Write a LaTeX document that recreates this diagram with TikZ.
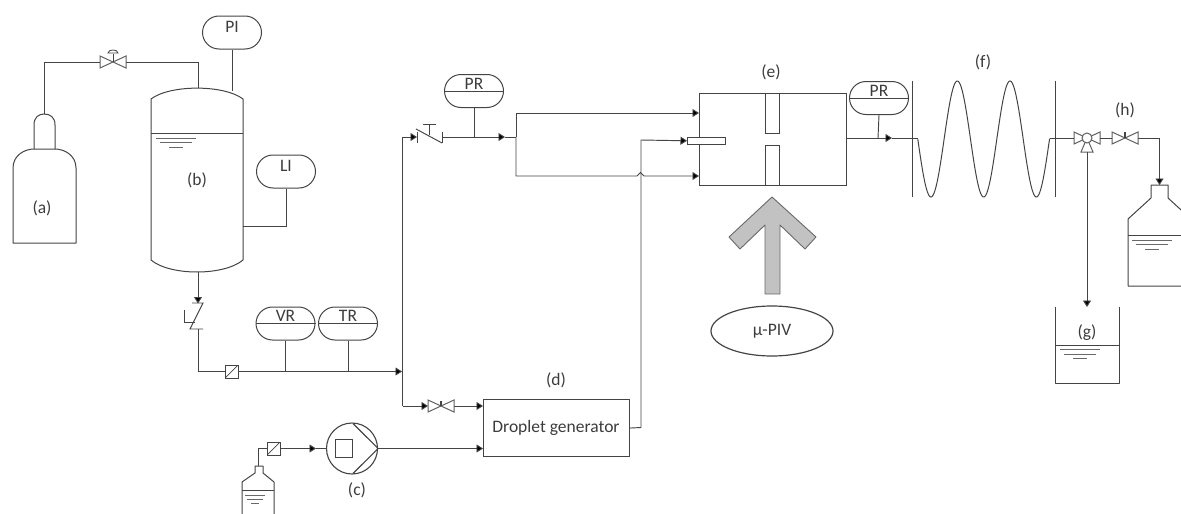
\documentclass[tikz,border=0pt]{standalone}
\usepackage{fontspec}
\setmainfont{Carlito}
\usetikzlibrary{arrows.meta,shapes.misc,shapes.geometric}
\definecolor{ln}{HTML}{444444}
\definecolor{ltx}{HTML}{3C3C3C}
\tikzset{
  pipe/.style={draw=ln,line width=0.95pt,line join=miter},
  vessel/.style={draw=ln,line width=1pt,line join=round},
  flow/.style={pipe,-{Triangle[length=6.5pt,width=8pt,fill=black]}},
  instr/.style={rounded rectangle,draw=ln,line width=1pt,minimum width=59pt,minimum height=33pt,inner sep=0pt,fill=white},
  lab/.style={text=ltx,font=\fontsize{17.5}{20}\selectfont,inner sep=0pt},
  box/.style={rectangle,draw=ln,line width=1.1pt,inner sep=0pt,anchor=north west},
  levelA/.style={draw=ln!80,line width=1pt},
  filt/.style={rectangle,draw=ln,line width=0.8pt,minimum size=13pt,inner sep=0pt,fill=white,path picture={\draw[ln,line width=0.7pt] (path picture bounding box.south west)--(path picture bounding box.north east);}}
}
% valve: name, x, y
\newcommand{\vlv}[3]{%
  \draw[draw=ln!85,line width=1pt,fill=white] (#2-13,#3-6)--(#2+13,#3+6)--(#2+13,#3-6)--(#2-13,#3+6)--cycle;
  \coordinate (#1-l) at (#2-13,#3);
  \coordinate (#1-r) at (#2+13,#3);
  \coordinate (#1-c) at (#2,#3);}
% level marks: x-left of long line, y
\newcommand{\lvl}[2]{%
  \draw[levelA] (#1,#2)--(#1+40,#2);
  \draw[levelA] (#1+4,#2+4.5)--(#1+36,#2+4.5);
  \draw[levelA] (#1+13,#2+9)--(#1+27,#2+9);}
\begin{document}
\begin{tikzpicture}[x=1pt,y=-1pt]
\useasboundingbox (0,0) rectangle (1181,514);
\clip (0,0) rectangle (1181,514);

% (a) cylinder
\coordinate (cylTop) at (44,114);
\draw[vessel] (13,243)--(13,168) .. controls (13,155) and (25,149) .. (34,149) -- (55,149) .. controls (64,149) and (76,155) .. (76,168) -- (76,243) -- cycle;
\draw[vessel] (34,149)--(34,125) .. controls (34,117) and (39,114) .. (44,114) .. controls (50,114) and (55,117) .. (55,125) -- (55,149);
\node[lab] (la) at (42,208) {(a)};

% (b) tank
\coordinate (tankTop) at (198,88);
\coordinate (tankPI) at (232,91);
\coordinate (tankLI) at (243,226);
\coordinate (tankBot) at (198,272);
\draw[vessel] (151,99) .. controls (170,84.5) and (224,84.5) .. (243,99) -- (243,260) .. controls (224,276) and (170,276) .. (151,260) -- cycle;
\draw[vessel] (151,133.5)--(243,133.5);
\lvl{156}{138}
\node[lab] (lb) at (197,180) {(b)};

% valve 1
\vlv{va}{113}{62}
\draw[ln,line width=0.9pt] (113,62)--(113,54);
\draw[ln,line width=0.8pt] (108,53) .. controls (108,49) and (118,49) .. (118,53) -- cycle;
\draw[pipe] (cylTop)--(44,62)--(va-l);
\draw[pipe] (va-r)--(198,62)--(tankTop);

% PI, LI
\node[instr] (PI) at (232,32.5) {};
\node[lab] (PIt) at (232,27) {PI};
\draw[pipe] (PI.south)--(tankPI);
\node[instr] (LI) at (286,171.5) {};
\node[lab] (LIt) at (286,166) {LI};
\draw[pipe] (LI.south)--(286,226)--(tankLI);

% check valve below tank
\coordinate (cvaTop) at (198,303.5);
\coordinate (cvaBot) at (198,329);
\draw[flow] (tankBot)--(cvaTop);
\draw[pipe] (192,303)--(203,303)--(190,329)--(203,329);
\draw[pipe] (195,322)--(184,322);
\draw[pipe] (184,310)--(184,322);

% main line
\node[filt] (f1) at (231.5,371.5) {};
\coordinate (jn) at (402,371.5);
\draw[pipe] (cvaBot)--(198,371.5)--(f1.west);
\draw[flow] (f1.east)--(jn);
\node[instr] (VR) at (285.5,323.5) {};
\draw[pipe] (VR.west)--(VR.east);
\node[lab] (VRt) at (285.5,316) {VR};
\node[instr] (TR) at (348,323.5) {};
\draw[pipe] (TR.west)--(TR.east);
\node[lab] (TRt) at (348,316) {TR};
\draw[pipe] (VR.south)--(VR.south |- jn);
\draw[pipe] (TR.south)--(TR.south |- jn);

% vertical branch
\coordinate (cvbL) at (417,137);
\coordinate (cvbR) at (442,137);
\vlv{vb}{441}{406}
\draw[ln,line width=1.5pt] (441,406)--(441,401);
\draw[flow] (402.5,406)--(vb-l);
\draw[pipe] (402.5,406)--(402.5,137);
\draw[flow] (402.5,137)--(cvbL);
\draw[pipe] (416,129)--(442,143);
\draw[pipe] (417,132)--(417,143);
\draw[pipe] (442,132)--(442,143);
\draw[pipe] (429,124)--(429,135);
\draw[pipe] (423,124)--(436,124);

% PR 1
\node[instr] (PR1) at (474,91) {};
\draw[pipe] (PR1.west)--(PR1.east);
\node[lab] (PR1t) at (474,83.5) {PR};
\coordinate (prj) at (474,137);
\coordinate (spl) at (516,137);
\draw[pipe] (PR1.south)--(prj);
\draw[flow] (cvbR)--(505,137);
\draw[pipe] (505,137)--(spl);

% droplet generator
\node[box,minimum width=146pt,minimum height=57pt] (dg) at (483,399) {};
\node[lab] (dgt) at (556,427.5) {Droplet generator};
\node[lab] (ld) at (556,380) {(d)};
\draw[flow] (vb-r)--(483,406);

% (e) chamber
\node[box,minimum width=147pt,minimum height=92pt] (e) at (699,93) {};
\node[lab] (le) at (771,72) {(e)};
\node[box,minimum width=14pt,minimum height=40pt,fill=white] (s1) at (765,93) {};
\node[box,minimum width=14pt,minimum height=40pt,fill=white] (s2) at (765,145) {};
\node[box,minimum width=38pt,minimum height=6.5pt,fill=white] (tube) at (687,137) {};

% pipes to chamber
\coordinate (jl) at (637,176);
\coordinate (jr) at (644,176);
\draw[flow] (spl)--(516,113)--(699,113);
\draw[flow] (spl)--(516,176)--(jl) .. controls (639,176) and (638.5,172.5) .. (640.5,172.5) .. controls (642.5,172.5) and (642,176) .. (jr) -- (699,176);
\draw[flow] (dg.east)--(641,427.5)--(641,140)--(tube.west);

% pump
\node[circle,draw=ln,line width=1.1pt,minimum size=51pt,inner sep=0pt] (pump) at (352,448.5) {};
\node[rectangle,draw=ln,line width=1.1pt,minimum size=17.5pt,inner sep=0pt] (psq) at (344,448.5) {};
\draw[ln,line width=1.1pt] (353,423.5)--(pump.east)--(353,473.5);
\node[lab] (lc) at (357,490) {(c)};
\draw[flow] (pump.east)--(483,448.5);
\node[filt] (f2) at (273.5,448.5) {};
\draw[flow] (f2.east)--(316,448.5);
\draw[pipe] (316,448.5)--(pump.west);
% bottle
\coordinate (bot1) at (258.5,466);
\draw[pipe] (f2.west)--(258.5,448.5)--(bot1);
\draw[vessel] (242,520)--(242,482)--(255,473)--(255,466)--(263,466)--(263,473)--(274,482)--(274,520);
\draw[vessel] (242,490)--(274,490);
\draw[levelA] (245,495)--(265,495);
\draw[levelA] (247,499)--(263,499);
\draw[levelA] (251,503)--(259,503);

% PR 2
\node[instr] (PR2) at (879,98) {};
\draw[pipe] (PR2.west)--(PR2.east);
\node[lab] (PR2t) at (879,90.5) {PR};
\coordinate (prb) at (878,138);
\draw[pipe] (PR2.south)--(prb);
\coordinate (eo) at (846,138);
\coordinate (cs) at (917.8,138);
\draw[flow] (eo)--(892,138);
\draw[pipe] (892,138)--(cs);

% (f) coil
\coordinate (ce) at (1049.6,138);
\draw[ln,line width=1pt] (912,81)--(912,197);
\draw[ln,line width=1pt] (1055,81)--(1055,197);
\draw[draw=ln,line width=1pt,domain=917.8:1049.6,samples=200,smooth] plot (\x,{139-58*cos(6.83*(\x-957.3))});
\node[lab] (lf) at (983,62) {(f)};

% three-way valve
\coordinate (tw) at (1087,138);
\draw[draw=ln!85,line width=1pt,fill=white] (1074,132)--(1074,144)--(1100,132)--(1100,144)--cycle;
\draw[draw=ln!85,line width=1pt,fill=white] (1087,138)--(1081,152)--(1093,152)--cycle;
\node[circle,draw=ln!85,line width=1pt,fill=white,minimum size=10pt,inner sep=0pt] (twc) at (tw) {};
\coordinate (twl) at (1074,138);
\coordinate (twr) at (1100,138);
\coordinate (twb) at (1087,152);
\draw[pipe] (ce)--(twl);
\coordinate (gIn) at (1087,307);
\draw[flow] (twb)--(gIn);
\vlv{vh}{1125}{138}
\draw[ln,line width=1.5pt] (1125,138)--(1125,132);
\draw[pipe] (twr)--(vh-l);
\node[lab] (lh) at (1125,110) {(h)};
\coordinate (hIn) at (1159.5,185);
\draw[flow] (vh-r)--(1159.5,138)--(hIn);

% (g) beaker
\draw[vessel] (1055,307)--(1055,383)--(1119,383)--(1119,307);
\draw[vessel] (1055,345)--(1119,345);
\lvl{1060}{349.5}
\node[lab] (lg) at (1087,333) {(g)};

% right bottle
\draw[vessel] (1128,286)--(1128,219)--(1151,198)--(1151,185)--(1168,185)--(1168,198)--(1191,219)--(1191,286)--cycle;
\draw[vessel] (1128,235)--(1191,235);
\lvl{1132}{240}

% arrow
\node[coordinate] (arrTip) at (772,197) {};
\draw[draw=ln!80,line width=0.9pt,fill=black!24,line join=round] (arrTip)--(816,237)--(805,249)--(780,225)--(780,294)--(765,294)--(765,225)--(740,249)--(729,237)--cycle;
\node[ellipse,draw=ln,line width=1.2pt,minimum width=122pt,minimum height=50pt,inner sep=0pt] (piv) at (772,331) {};
\node[lab] (pivt) at (772,331) {µ-PIV};
\end{tikzpicture}
\end{document}
